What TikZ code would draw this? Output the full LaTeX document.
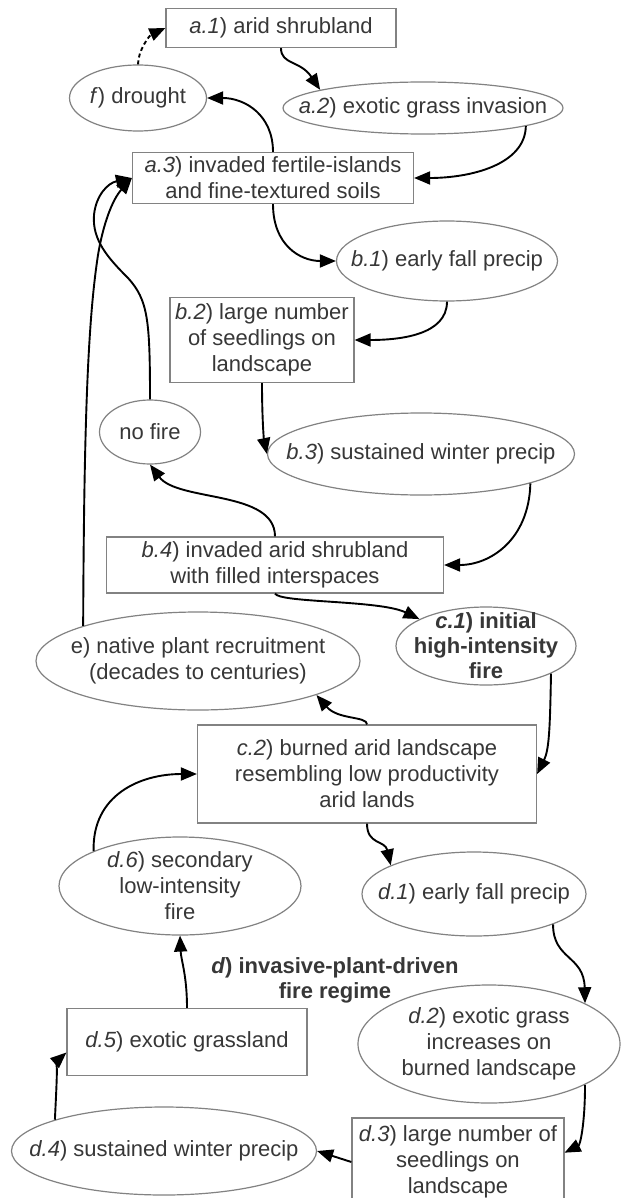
\documentclass[tikz,border=0pt]{standalone}
\usepackage{fontspec}
\setmainfont{Liberation Sans}
\usetikzlibrary{shapes.geometric,arrows.meta}
\definecolor{txtc}{RGB}{55,55,55}
\definecolor{bordc}{RGB}{130,130,130}
\begin{document}
\begin{tikzpicture}[x=1pt,y=-1pt,
  every node/.style={text=txtc, font=\fontsize{22}{26}\selectfont, align=center},
  boxn/.style={draw=bordc, line width=1.2pt, rectangle, inner sep=0pt},
  elln/.style={draw=bordc, line width=1.2pt, ellipse, inner sep=0pt},
  link/.style={line width=1.9pt, -{Triangle[length=16pt,width=13pt]}},
  boldtxt/.style={font=\fontsize{22}{25}\selectfont\bfseries}
]
\fill[white] (0,0) rectangle (621,1198);
\useasboundingbox (0,0) rectangle (621,1198);

% ---------- boxes ----------
\node[boxn, minimum width=230pt, minimum height=39pt] (a1) at (281,28) {\textit{a.1}) arid shrubland};
\node[boxn, minimum width=281pt, minimum height=51pt] (a3) at (273,178) {\textit{a.3}) invaded fertile-islands\\and fine-textured soils};
\node[boxn, minimum width=184pt, minimum height=85pt] (b2) at (262,340) {\textit{b.2}) large number\\of seedlings on\\landscape};
\node[boxn, minimum width=337pt, minimum height=56pt] (b4) at (275,565) {\textit{b.4}) invaded arid shrubland\\with filled interspaces};
\node[boxn, minimum width=339pt, minimum height=98pt] (c2) at (367,774) {\textit{c.2}) burned arid landscape\\resembling low productivity\\arid lands};
\node[boxn, minimum width=240pt, minimum height=67pt] (d5) at (187,1042) {\textit{d.5}) exotic grassland};
\node[boxn, minimum width=212pt, minimum height=88pt] (d3) at (458,1162) {\textit{d.3}) large number of\\seedlings on\\landscape};

% ---------- ellipses ----------
\node[elln, minimum width=137pt, minimum height=66pt] (f) at (138,98) {};
\node (ft) at (f) {\textit{f}) drought};
\node[elln, minimum width=280pt, minimum height=52pt] (a2) at (423,108) {};
\node (a2t) at (a2) {\textit{a.2}) exotic grass invasion};
\node[elln, minimum width=221pt, minimum height=80pt] (b1) at (447,261) {};
\node (b1t) at (b1) {\textit{b.1}) early fall precip};
\node[elln, minimum width=101pt, minimum height=64pt] (nofire) at (150,432) {};
\node (nofiret) at (nofire) {no fire};
\node[elln, minimum width=307pt, minimum height=82pt] (b3) at (421,454) {};
\node (b3t) at (b3) {\textit{b.3}) sustained winter precip};
\node[elln, minimum width=180pt, minimum height=78pt] (c1) at (486,646) {};
\node[boldtxt] (c1t) at (c1) {\textit{c.1}) initial\\high-intensity\\fire};
\node[elln, minimum width=324pt, minimum height=98pt] (e) at (198,661) {};
\node (et) at (e) {e) native plant recruitment\\(decades to centuries)};
\node[elln, minimum width=242pt, minimum height=98pt] (d6) at (180,886) {};
\node (d6t) at (d6) {\textit{d.6}) secondary\\low-intensity\\fire};
\node[elln, minimum width=224pt, minimum height=84pt] (d1) at (474,894) {};
\node (d1t) at (d1) {\textit{d.1}) early fall precip};
\node[elln, minimum width=262pt, minimum height=118pt] (d2) at (489,1044) {};
\node (d2t) at (d2) {\textit{d.2}) exotic grass\\increases on\\burned landscape};
\node[elln, minimum width=305pt, minimum height=88pt] (d4) at (164,1151) {};
\node (d4t) at (d4) {\textit{d.4}) sustained winter precip};

% ---------- label ----------
\node[boldtxt] (dlab) at (335,980) {\textit{d}) invasive-plant-driven\\fire regime};

% ---------- connectors ----------
\draw[link, dash pattern=on 4pt off 3pt] (f.north) .. controls (138,50) and (150,35) .. (a1.west);
\draw[link] (a1.south) .. controls (281,65) and (300,60) .. (a2.170);
\draw[link] (a2.-10) .. controls (525,165) and (470,178) .. (a3.east);
\draw[link] (a3.north) .. controls (273,115) and (245,98) .. (f.east);
\draw[link] (a3.south) .. controls (273,245) and (300,261) .. (b1.west);
\draw[link] (b1.south) .. controls (447,335) and (400,340) .. (b2.east);
\draw[link] (b2.south) .. controls (262,420) and (264,440) .. (b3.west);
\draw[link] (b3.-15) .. controls (529,540) and (490,565) .. (b4.east);
\draw[link] (b4.north) .. controls (275,490) and (178,502) .. (nofire.south);
\draw[link] (b4.south) .. controls (280,603) and (380,600) .. (c1.158);
\draw[link] (c1.-23) .. controls (550,730) and (549,750) .. (c2.east);
\draw[link] (c2.north) .. controls (367,716) and (338,720) .. (e.-16);
\draw[link] (c2.south) .. controls (367,845) and (385,840) .. (d1.161);
\draw[link] (d6.158) .. controls (92,795) and (140,774) .. (c2.west);
\draw[link] (d1.-21) .. controls (553,960) and (584,955) .. (d2.23);
\draw[link] (d2.-23) .. controls (585,1125) and (580,1145) .. (d3.5);
\draw[link] (d3.west) -- (d4.east);
\draw[link] (d4.164) .. controls (57,1075) and (58,1060) .. (d5.185);
\draw[link] (d5.north) .. controls (187,975) and (181,960) .. (d6.south);
\draw[link] (e.163) .. controls (84,420) and (88,320) .. (98,255) .. controls (103,225) and (112,200) .. (a3.west);
\draw[link] (nofire.north) .. controls (150,320) and (148,300) .. (128,278) .. controls (108,258) and (92,240) .. (94,215) .. controls (96,195) and (108,183) .. (a3.west);
\end{tikzpicture}
\end{document}
